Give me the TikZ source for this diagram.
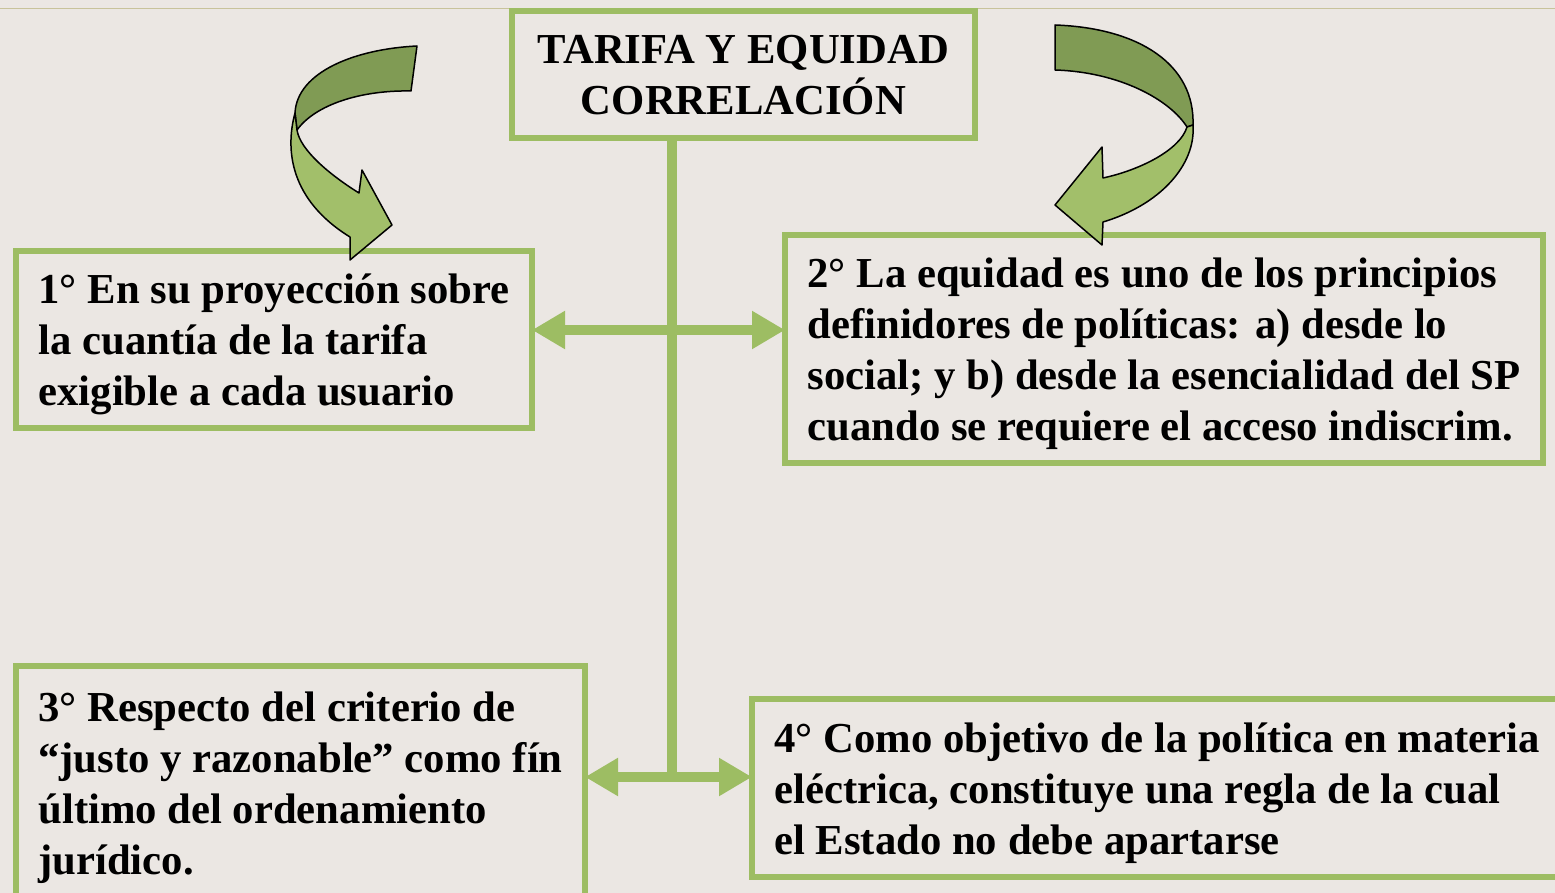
\documentclass[tikz,border=0pt]{standalone}
\usepackage{fontspec}
\setmainfont{Liberation Serif}
\usepackage{tikz}
\usetikzlibrary{arrows.meta, positioning}

\definecolor{paper}{RGB}{235,231,227}
\definecolor{rule}{RGB}{200,195,155}
\definecolor{boxgreen}{RGB}{157,189,99}
\definecolor{ribbondark}{RGB}{128,155,84}
\definecolor{ribbonlight}{RGB}{162,191,106}

% struts: fixed room above the first line and below the last one
\newcommand{\topstrut}{\rule{0pt}{42pt}}
\newcommand{\botstrut}{\rule[-12pt]{0pt}{12pt}}

\begin{document}
\begin{tikzpicture}[x=1pt, y=-1pt,
  card/.style={draw=boxgreen, line width=6pt, align=left, inner sep=0pt, outer sep=0pt,
    font=\fontsize{42.7}{51}\selectfont\bfseries},
  link/.style={draw=boxgreen, line width=10pt,
    {Triangle[width=36pt,length=33pt]}-{Triangle[width=36pt,length=33pt]}},
  trunk/.style={draw=boxgreen, line width=10pt},
  ribbon/.style={draw=black, line width=1.5pt, line join=round}]

\def \xtrunk{672}
\def \yarrowa{330}
\def \yarrowb{777}

% page
\useasboundingbox (0,0) rectangle (1555,893);
\fill[paper] (0,0) rectangle (1555,893);
\clip (0,0) rectangle (1555,893);
\draw[rule, line width=1pt] (0,9) -- (1555,9);

% boxes
\node[card, fill=paper, align=center, minimum width=463pt, minimum height=127pt] (title) at (743.5,74.5)
  {\topstrut TARIFA Y EQUIDAD\\CORRELACIÓN\botstrut};
\node[card, minimum width=516pt, minimum height=177pt] (first) at (274,339.5)
  {\topstrut 1° En su proyección sobre\\la cuantía de la tarifa\\exigible a cada usuario\botstrut};
\node[card, minimum width=758pt, minimum height=228pt] (second) at (1164,349)
  {\topstrut 2° La equidad es uno de los principios\\definidores de políticas: a) desde lo\\social; y b) desde la esencialidad del SP\\cuando se requiere el acceso indiscrim.\botstrut};
\node[card, minimum width=569pt, minimum height=234pt] (third) at (300.5,783)
  {\topstrut 3° Respecto del criterio de\\“justo y razonable” como fín\\último del ordenamiento\\jurídico.\botstrut};
\node[card, minimum width=810pt, minimum height=178pt] (fourth) at (1157,788)
  {\topstrut 4° Como objetivo de la política en materia\\eléctrica, constituye una regla de la cual\\el Estado no debe apartarse\botstrut};

% trunk and branches
\coordinate (hubA) at (\xtrunk,\yarrowa);
\coordinate (hubB) at (\xtrunk,\yarrowb);
\draw[trunk] (title.south -| hubA) -- ([yshift=-2pt]hubB);
\draw[link] (first.east |- hubA) -- (second.west |- hubA);
\draw[link] (third.east |- hubB) -- (fourth.west |- hubB);

% left curved arrow
\filldraw[ribbon, fill=ribbondark] (417,46) .. controls (355,49) and (297,72) .. (295,113)
  -- (297,130) .. controls (315,105) and (360,90) .. (411,91) -- cycle;
\filldraw[ribbon, fill=ribbonlight] (295,113) .. controls (285,150) and (290,200) .. (350,237)
  -- (350,260) -- (392,225) -- (362,170) -- (359,193)
  .. controls (330,175) and (300,150) .. (297,130) -- cycle;

% right curved arrow
\filldraw[ribbon, fill=ribbondark] (1055,25) .. controls (1140,28) and (1195,65) .. (1193,125)
  -- (1187,127) .. controls (1170,100) and (1120,72) .. (1055,70) -- cycle;
\filldraw[ribbon, fill=ribbonlight] (1193,125) .. controls (1196,165) and (1160,205) .. (1103,222)
  -- (1102,245) -- (1055,205) -- (1102,147) -- (1103,178)
  .. controls (1140,170) and (1180,150) .. (1187,127) -- cycle;

\end{tikzpicture}
\end{document}
